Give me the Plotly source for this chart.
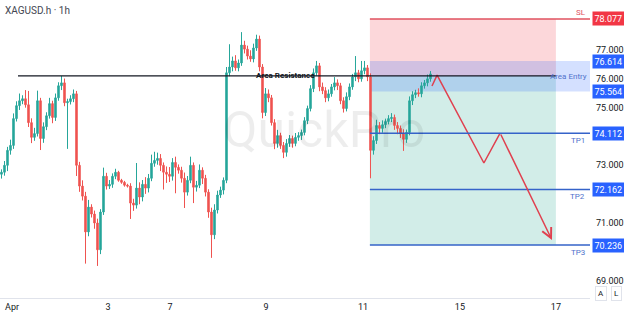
import plotly.graph_objects as go

# ---------------- data (hourly candles, index = bar number) ----------------
closes = [
    72.76, 73.00, 73.52, 73.69, 74.62, 75.07, 75.24, 75.31, 75.10, 74.48, 73.97, 74.10,
    75.24, 73.93, 74.34, 74.72, 75.14, 74.66, 75.34, 75.76, 75.86, 75.17, 75.21, 75.31,
    75.48, 73.00, 72.28, 71.93, 70.69, 71.55, 71.31, 71.00, 70.07, 71.38, 72.62, 72.28,
    72.34, 72.62, 72.76, 72.48, 72.41, 72.31, 72.28, 71.69, 71.62, 72.21, 71.90, 72.34,
    72.21, 72.55, 73.07, 73.17, 73.24, 73.00, 72.76, 72.69, 72.62, 73.10, 72.93, 72.83,
    72.55, 72.07, 72.48, 73.00, 72.24, 72.31, 72.83, 72.55, 72.07, 71.38, 70.59, 71.45,
    71.97, 72.14, 72.48, 76.21, 76.41, 76.62, 76.38, 76.55, 77.17, 77.03, 76.79, 76.69,
    77.07, 77.38, 76.41, 74.83, 75.48, 75.34, 74.48, 73.76, 74.03, 73.69, 73.45, 73.76,
    73.93, 73.76, 73.97, 74.03, 74.14, 74.55, 74.97, 75.66, 76.21, 76.45, 75.72, 75.59,
    75.34, 75.48, 75.72, 75.86, 75.76, 75.24, 74.97, 75.38, 75.72, 76.07, 76.21, 76.00,
    76.28, 76.38, 76.07, 73.52, 73.86, 74.38, 74.28, 74.41, 74.52, 74.62, 74.66, 74.38,
    74.28, 74.10, 73.90, 74.14, 75.24, 75.45, 75.52, 75.48, 75.76, 75.86, 76.00, 76.17,
]
first_open = 72.69
wick_up = [
    0.10, 0.15, 0.12, 0.20, 0.18, 0.15, 0.25, 0.12, 0.30, 0.48, 0.15, 0.20,
    0.35, 0.10, 0.15, 0.12, 0.20, 0.10, 0.15, 0.12, 0.24, 0.15, 0.10, 0.12,
    0.15, 0.10, 0.12, 0.20, 0.15, 0.25, 0.10, 0.12, 0.15, 0.10, 0.30, 0.12,
    0.15, 0.10, 0.12, 0.05, 0.05, 0.05, 0.05, 0.10, 0.15, 0.87, 0.20, 0.15,
    0.25, 0.15, 0.30, 0.30, 0.20, 0.15, 0.10, 0.20, 0.25, 0.15, 0.20, 0.10,
    0.12, 0.20, 0.15, 0.30, 0.10, 0.15, 0.20, 0.10, 0.12, 0.10, 0.15, 0.20,
    0.15, 0.12, 0.10, 0.20, 0.79, 0.15, 0.20, 0.12, 0.45, 0.15, 0.12, 0.20,
    0.15, 0.15, 0.12, 0.10, 0.20, 0.15, 0.10, 0.12, 0.20, 0.10, 0.12, 0.15,
    0.12, 0.10, 0.15, 0.12, 0.10, 0.12, 0.10, 0.12, 0.15, 0.17, 0.10, 0.15,
    0.12, 0.15, 0.10, 0.20, 0.12, 0.10, 0.12, 0.15, 0.12, 0.10, 0.58, 0.10,
    0.34, 0.24, 0.10, 0.12, 0.15, 0.20, 0.12, 0.15, 0.10, 0.12, 0.15, 0.10,
    0.12, 0.10, 0.15, 0.10, 0.15, 0.12, 0.10, 0.15, 0.12, 0.10, 0.15, 0.10,
]
wick_dn = [
    0.15, 0.12, 0.20, 0.15, 0.12, 0.10, 0.15, 0.12, 0.10, 0.15, 0.20, 0.12,
    0.10, 0.40, 0.15, 0.12, 0.10, 0.20, 0.12, 0.10, 0.15, 0.12, 1.60, 0.10,
    0.12, 0.37, 0.20, 0.15, 1.10, 0.15, 0.12, 0.20, 0.56, 0.15, 0.10, 0.12,
    0.10, 0.12, 0.10, 0.05, 0.05, 0.05, 0.05, 0.55, 0.20, 0.12, 0.25, 0.15,
    0.20, 0.15, 0.10, 0.12, 0.15, 0.20, 0.60, 0.30, 0.20, 0.15, 0.90, 0.12,
    0.15, 0.55, 0.12, 0.10, 0.55, 0.15, 0.10, 0.20, 0.15, 0.20, 0.80, 0.15,
    0.12, 0.10, 0.15, 0.10, 0.12, 0.15, 0.10, 0.12, 0.10, 0.15, 0.12, 0.10,
    0.12, 0.10, 0.15, 0.20, 0.12, 0.15, 0.10, 0.20, 0.15, 0.12, 0.20, 0.15,
    0.12, 0.15, 0.10, 0.12, 0.15, 0.10, 0.12, 0.10, 0.12, 0.10, 0.15, 0.12,
    0.15, 0.12, 0.10, 0.12, 0.15, 0.12, 0.14, 0.10, 0.12, 0.10, 0.15, 0.12,
    0.10, 0.12, 0.15, 0.97, 0.15, 0.12, 0.20, 0.15, 0.12, 0.10, 0.12, 0.15,
    0.20, 0.15, 0.40, 0.12, 0.10, 0.15, 0.12, 0.10, 0.12, 0.10, 0.12, 0.10,
]

# x tick labels (dates) at bar positions
tick_labels = ["Apr", "3", "7", "9", "11", "15", "17"]
tick_bars = [3.5, 35.5, 56.2, 88.2, 120.5, 152.8, 184.8]

# trade levels
sl_level = 78.077
entry_top = 76.614
entry_bot = 75.564
resistance = 76.10
tp_levels = [74.112, 72.162, 70.236]
tp_names = ["TP1", "TP2", "TP3"]

# projected path
proj_bars = [143.5, 145.2, 160.8, 166.2, 183.5]
proj_prices = [75.75, 76.13, 73.08, 74.12, 70.41]

# visible y ticks (others are covered by the price label boxes)
y_ticks = [69, 71, 73, 75, 76, 77]

# ---------------- geometry ----------------
zone_start = 122.8
zone_end = 184.8
res_start = 5.5
x_lo, x_hi = -0.5, 196.17
y_lo, y_hi = 68.398, 78.734

opens = [first_open] + closes[:-1]
highs = [max(o, c) + w for o, c, w in zip(opens, closes, wick_up)]
lows = [min(o, c) - w for o, c, w in zip(opens, closes, wick_dn)]
idx = list(range(len(closes)))

GREEN = "#26a69a"
RED = "#ef5350"
BLUE = "#2962ff"
LINE_BLUE = "#3563c9"
LBL_BLUE = "#5273cc"

fig = go.Figure()
fig.add_trace(go.Candlestick(
    x=idx, open=opens, high=highs, low=lows, close=closes,
    increasing=dict(line=dict(color=GREEN, width=1), fillcolor=GREEN),
    decreasing=dict(line=dict(color=RED, width=1), fillcolor=RED),
    hoverinfo="skip", showlegend=False,
))
fig.add_trace(go.Scatter(
    x=proj_bars[:-1], y=proj_prices[:-1], mode="lines",
    line=dict(color="#e0404f", width=1.5), hoverinfo="skip", showlegend=False,
))

shapes = []
# zones
shapes.append(dict(type="rect", xref="x", yref="y", x0=zone_start, x1=zone_end,
                   y0=resistance, y1=sl_level, fillcolor="rgba(242,54,69,0.2)",
                   line=dict(width=0), layer="below"))
shapes.append(dict(type="rect", xref="x", yref="y", x0=zone_start, x1=zone_end,
                   y0=tp_levels[-1], y1=resistance, fillcolor="rgba(8,153,129,0.18)",
                   line=dict(width=0), layer="below"))
shapes.append(dict(type="rect", xref="x", yref="y", x0=zone_start, x1=x_hi,
                   y0=entry_bot, y1=entry_top, fillcolor="rgba(41,98,255,0.2)",
                   line=dict(width=0), layer="below"))
# lines
shapes.append(dict(type="line", xref="x", yref="y", x0=res_start, x1=zone_end,
                   y0=resistance, y1=resistance, line=dict(color="#131722", width=1.2)))
shapes.append(dict(type="line", xref="x", yref="y", x0=zone_start, x1=x_hi,
                   y0=sl_level, y1=sl_level, line=dict(color="#e0525f", width=1.5)))
for lv in tp_levels:
    shapes.append(dict(type="line", xref="x", yref="y", x0=zone_start, x1=x_hi,
                       y0=lv, y1=lv, line=dict(color=LINE_BLUE, width=1.5)))

ann = []
# title
ann.append(dict(text="XAGUSD.h · 1h", xref="paper", yref="paper", x=0, y=1,
                xanchor="left", yanchor="top", xshift=3, yshift=-3, showarrow=False,
                font=dict(size=10, color="#434651", family="Roboto")))
# watermark
ann.append(dict(text="QuickPro", xref="paper", yref="paper", x=0.549, y=0.564,
                showarrow=False, font=dict(size=50, color="rgba(0,0,0,0.07)",
                                           family="Roboto")))
# area resistance label
ann.append(dict(text="<b>Area Resistance</b>", xref="x", yref="y",
                x=94.8, y=resistance, showarrow=False,
                font=dict(size=8, color="#131722", family="Roboto")))
# area entry label
ann.append(dict(text="Area Entry", xref="paper", yref="y", x=1, y=(entry_top + entry_bot) / 2,
                xanchor="right", xshift=-1, showarrow=False,
                font=dict(size=8, color=LBL_BLUE, family="Roboto")))
# SL label
ann.append(dict(text="SL", xref="paper", yref="y", x=1, y=sl_level, xanchor="right",
                yanchor="bottom", xshift=-2, yshift=0, showarrow=False,
                font=dict(size=8, color="#e0525f", family="Roboto")))
for lv, nm in zip(tp_levels, tp_names):
    ann.append(dict(text=nm, xref="paper", yref="y", x=1, y=lv, xanchor="right",
                    yanchor="top", xshift=-3, yshift=-1, showarrow=False,
                    font=dict(size=8, color=LBL_BLUE, family="Roboto")))
# price axis label boxes
for lv, col in [(sl_level, "#f23645"), (entry_top, BLUE), (entry_bot, BLUE)] + \
        [(lv, BLUE) for lv in tp_levels]:
    ann.append(dict(text=f"{lv:.3f}", xref="paper", yref="y", x=1, y=lv,
                    xanchor="left", xshift=2, showarrow=False, bgcolor=col,
                    borderpad=1.5, font=dict(size=9, color="white", family="Roboto")))
# arrow head for final projected leg
ann.append(dict(x=proj_bars[-1], y=proj_prices[-1], ax=proj_bars[-2], ay=proj_prices[-2],
                xref="x", yref="y", axref="x", ayref="y", text="", showarrow=True,
                arrowhead=5, arrowsize=1.3, arrowwidth=1.5, arrowcolor="#e0404f",
                standoff=0))
# A / L buttons
for t, xs in [("A", 11), ("L", 26)]:
    ann.append(dict(text=t, xref="paper", yref="paper", x=1, y=0, xanchor="center",
                    yanchor="bottom", xshift=xs, yshift=-3, showarrow=False,
                    bgcolor="white", bordercolor="#e0e3eb", borderwidth=1, borderpad=2,
                    font=dict(size=8, color="#131722", family="Roboto")))

fig.update_layout(
    width=624, height=316,
    margin=dict(l=0, r=34, t=0, b=18),
    paper_bgcolor="white", plot_bgcolor="white",
    shapes=shapes, annotations=ann,
    showlegend=False, hovermode=False,
    font=dict(family="Roboto", size=9, color="#131722"),
    xaxis=dict(range=[x_lo, x_hi], tickvals=tick_bars, ticktext=tick_labels,
               showgrid=False, zeroline=False, showline=True, linecolor="#e0e3eb",
               ticks="", rangeslider=dict(visible=False),
               tickfont=dict(size=9, color="#131722")),
    yaxis=dict(range=[y_lo, y_hi], side="right", tickvals=y_ticks,
               ticktext=[f"{v:.3f}" for v in y_ticks], showgrid=False,
               zeroline=False, showline=False, ticks="", ticklabelstandoff=5,
               tickfont=dict(size=9, color="#131722")),
)

fig.write_html("out.html")
